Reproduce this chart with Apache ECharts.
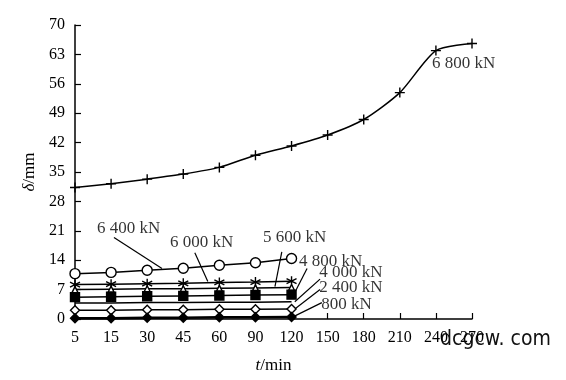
<!DOCTYPE html>
<html><head><meta charset="utf-8">
<script src="https://cdn.jsdelivr.net/npm/echarts@6/dist/echarts.min.js"></script>
<style>html,body{margin:0;padding:0;background:#fff}#c{width:566px;height:380px}</style>
</head><body><div id="c"></div>
<script>
// x categories (t/min) and y ticks
const tLabels = ['5','15','30','45','60','90','120','150','180','210','240','270'];
const yMax = 70, yStep = 7;

// series values (δ/mm)
const s6800 = [31.3, 32.2, 33.3, 34.5, 36.1, 39.0, 41.2, 43.8, 47.5, 53.9, 63.9, 65.6];
const s6400 = [10.8, 11.1, 11.6, 12.1, 12.8, 13.4, 14.4];
const s6000 = [8.2, 8.3, 8.4, 8.5, 8.7, 8.8, 9.0];
const s5600 = [7.0, 7.1, 7.2, 7.2, 7.3, 7.4, 7.5];
const s4800 = [5.2, 5.3, 5.4, 5.5, 5.6, 5.7, 5.8];
const s4000 = [3.8, 3.8, 3.9, 3.9, 4.0, 4.0, 4.1];
const s2400 = [2.1, 2.1, 2.2, 2.2, 2.3, 2.3, 2.4];
const s800  = [0.2, 0.2, 0.3, 0.3, 0.4, 0.4, 0.5];

// annotation labels (x in category-index units, y in mm)
const annNames = ['6 800 kN','6 400 kN','6 000 kN','5 600 kN','4 800 kN','4 000 kN','2 400 kN','800 kN'];
const annX = [9.89, 0.61, 2.63, 5.21, 6.21, 6.77, 6.77, 6.82];
const annY = [60.9, 21.5, 18.2, 19.4, 13.6, 11.0, 7.4, 3.4];
// leader lines: start (near label) -> end (on curve)
const leadX1 = [1.08, 3.32, 5.73, 6.43, 6.79, 6.79, 6.84];
const leadY1 = [19.4, 15.8, 16.0, 12.0, 9.5, 7.0, 3.9];
const leadX2 = [2.41, 3.68, 5.54, 6.09, 6.09, 6.09, 6.04];
const leadY2 = [12.0, 8.9, 7.7, 6.3, 4.1, 2.4, 0.5];

const FF = '"Liberation Serif","Times New Roman",serif';
const PLUS = 'path://M5,0L5,10M0,5L10,5';
const STAR = 'path://M5,0L5,10M0.7,2.5L9.3,7.5M0.7,7.5L9.3,2.5';

function mk(vals, symbol, size, filled, lw) {
  return {
    type: 'line', data: vals.map((v, i) => [i, v]),
    symbol: symbol, symbolSize: size, showAllSymbol: true,
    lineStyle: { color: '#000', width: lw || 1.5 },
    itemStyle: { color: filled ? '#000' : '#fff', borderColor: '#000', borderWidth: 1.4 },
    emphasis: { disabled: true }, silent: true, z: 3
  };
}

const series = [
  Object.assign(mk(s6800, PLUS, 10, true), { smooth: 0.25 }),
  mk(s6400, 'circle', 10, false),
  mk(s6000, STAR, 10, true),
  mk(s5600, 'triangle', 6, false),
  mk(s4800, 'rect', 9, true),
  mk(s4000, 'none', 0, true),
  mk(s2400, 'diamond', 9, false),
  mk(s800, 'diamond', 9, true, 2.5)
];
for (let i = 0; i < leadX1.length; i++) {
  series.push({
    type: 'line', data: [[leadX1[i], leadY1[i]], [leadX2[i], leadY2[i]]],
    symbol: 'none', lineStyle: { color: '#000', width: 1.2 }, silent: true, z: 2
  });
}
series.push({
  type: 'scatter', symbolSize: 0, silent: true, z: 5,
  data: annNames.map((n, i) => ({ value: [annX[i], annY[i]], name: n })),
  label: { show: true, position: 'right', distance: 0, formatter: p => p.name,
           color: '#000', fontSize: 17, fontFamily: FF }
});

const chart = echarts.init(document.getElementById('c'), null, { renderer: 'canvas' });
chart.setOption({
  animation: false,
  backgroundColor: '#fff',
  grid: { left: 75, right: 94, top: 25, bottom: 61, containLabel: false },
  xAxis: {
    type: 'value', min: 0, max: tLabels.length - 1, interval: 1,
    name: '{i|t}/min', nameLocation: 'middle', nameGap: 38,
    nameTextStyle: { color: '#000', fontSize: 17, fontFamily: FF,
      rich: { i: { fontStyle: 'italic', fontSize: 17, fontFamily: FF, color: '#000' } } },
    axisLine: { onZero: false, lineStyle: { color: '#000', width: 1.5 } },
    axisTick: { inside: true, length: 6, lineStyle: { color: '#000', width: 1.2 } },
    axisLabel: { color: '#000', fontSize: 16, fontFamily: FF, margin: 11,
      formatter: v => tLabels[v] },
    splitLine: { show: false }
  },
  yAxis: {
    type: 'value', min: 0, max: yMax, interval: yStep,
    name: '{i|δ}/mm', nameLocation: 'middle', nameGap: 37,
    nameTextStyle: { color: '#000', fontSize: 17, fontFamily: FF,
      rich: { i: { fontStyle: 'italic', fontSize: 17, fontFamily: FF, color: '#000' } } },
    axisLine: { show: true, lineStyle: { color: '#000', width: 1.5 } },
    axisTick: { show: true, inside: true, length: 6, lineStyle: { color: '#000', width: 1.2 } },
    axisLabel: { color: '#000', fontSize: 16, fontFamily: FF, margin: 10 },
    splitLine: { show: false }
  },
  graphic: [{
    type: 'text', left: 440, top: 328, scaleX: 0.86, silent: true,
    style: { text: 'dcgcw. com', fill: '#111', font: '22px "DejaVu Sans", sans-serif' }
  }],
  series: series
});
</script></body></html>
